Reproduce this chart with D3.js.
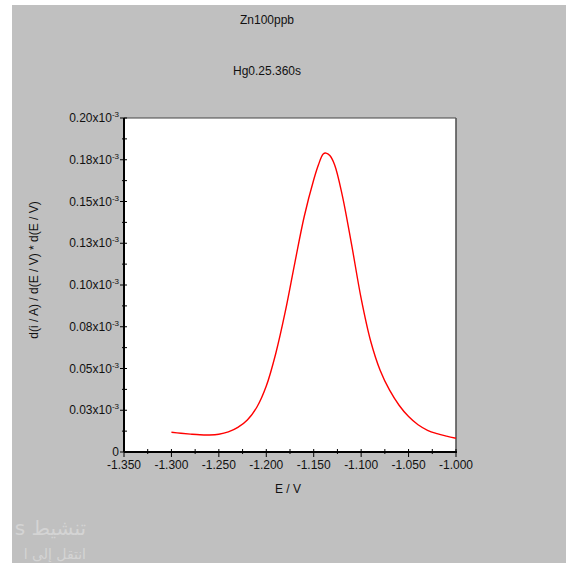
<!DOCTYPE html>
<html>
<head>
<meta charset="utf-8">
<script src="https://cdn.jsdelivr.net/npm/d3@7"></script>
<style>
  html, body { margin: 0; padding: 0; background: #ffffff; }
  svg { display: block; font-family: "Liberation Sans", Arial, sans-serif; }
</style>
</head>
<body>
<svg id="chart" width="566" height="566"></svg>
<script>
// ---- data ----
const title1 = "Zn100ppb";
const title2 = "Hg0.25.360s";
const xLabel = "E / V";
const yLabel = "d(i / A) / d(E / V) * d(E / V)";

const potential = [-1.300, -1.290, -1.280, -1.270, -1.260, -1.250, -1.240, -1.230, -1.220, -1.210,
  -1.200, -1.190, -1.180, -1.170, -1.160, -1.150, -1.145, -1.140, -1.137, -1.133, -1.128,
  -1.120, -1.110, -1.100, -1.090, -1.080, -1.070, -1.060, -1.050, -1.040, -1.030, -1.020, -1.010, -1.000];
// values in units of 1e-3
const signal = [0.0118, 0.0112, 0.0107, 0.0103, 0.0102, 0.0106, 0.0120, 0.0147, 0.0192, 0.0268,
  0.0395, 0.0590, 0.0840, 0.1130, 0.1410, 0.1630, 0.1720, 0.1785, 0.1790, 0.1775, 0.1720,
  0.1540, 0.1240, 0.0920, 0.0665, 0.0490, 0.0370, 0.0280, 0.0212, 0.0163, 0.0130, 0.0110, 0.0095, 0.0082];

const xTicks = [-1.35, -1.30, -1.25, -1.20, -1.15, -1.10, -1.05, -1.00];
const xTickLabels = ["-1.350", "-1.300", "-1.250", "-1.200", "-1.150", "-1.100", "-1.050", "-1.000"];
const yTicks = [0, 0.025, 0.05, 0.075, 0.10, 0.125, 0.15, 0.175, 0.20];
const yTickLabels = ["0", "0.03", "0.05", "0.08", "0.10", "0.13", "0.15", "0.18", "0.20"];
const watermark = ["تنشيط s", "انتقل إلى ا"];

// ---- layout ----
const svg = d3.select("#chart");
const L = 124, R = 456, T = 118, B = 452;

svg.append("rect").attr("x", 12).attr("y", 5).attr("width", 554).attr("height", 558).attr("fill", "#c0c0c0");

const x = d3.scaleLinear().domain([-1.35, -1.00]).range([L, R]);
const y = d3.scaleLinear().domain([0, 0.20]).range([B, T]);

svg.append("rect").attr("x", L).attr("y", T).attr("width", R - L).attr("height", B - T)
  .attr("fill", "#ffffff");

// frame top/right
svg.append("line").attr("x1", L).attr("x2", R).attr("y1", T).attr("y2", T)
  .attr("stroke", "#444").attr("stroke-width", 1.2);
svg.append("line").attr("x1", R).attr("x2", R).attr("y1", T).attr("y2", B)
  .attr("stroke", "#555").attr("stroke-width", 1.6);

// titles
svg.append("text").attr("x", 267).attr("y", 24).attr("text-anchor", "middle")
  .attr("font-size", 12).attr("fill", "#111").text(title1);
svg.append("text").attr("x", 267).attr("y", 75).attr("text-anchor", "middle")
  .attr("font-size", 12).attr("fill", "#111").text(title2);

// minor ticks
const yMinor = d3.range(0.0125, 0.2, 0.025);
const xMinor = d3.range(-1.325, -1.0, 0.05);
svg.selectAll(".ym").data(yMinor).join("line")
  .attr("x1", L - 2).attr("x2", L + 3).attr("y1", d => y(d)).attr("y2", d => y(d))
  .attr("stroke", "#000").attr("stroke-width", 1);
svg.selectAll(".xm").data(xMinor).join("line")
  .attr("x1", d => x(d)).attr("x2", d => x(d)).attr("y1", B - 3).attr("y2", B + 2)
  .attr("stroke", "#000").attr("stroke-width", 1);

// major y ticks + labels
const yg = svg.append("g");
yTicks.forEach((v, i) => {
  yg.append("line").attr("x1", L - 4).attr("x2", L + 3).attr("y1", y(v)).attr("y2", y(v))
    .attr("stroke", "#000").attr("stroke-width", 1);
  const t = yg.append("text").attr("x", L - 5).attr("y", y(v) + 4).attr("text-anchor", "end")
    .attr("font-size", 12).attr("fill", "#111");
  if (v === 0) {
    t.text(yTickLabels[i]);
  } else {
    t.append("tspan").text(yTickLabels[i] + "x10");
    t.append("tspan").attr("font-size", 8).attr("dy", -5).text("-3");
  }
});

// major x ticks + labels
const xg = svg.append("g");
xTicks.forEach((v, i) => {
  xg.append("line").attr("x1", x(v)).attr("x2", x(v)).attr("y1", B - 3).attr("y2", B + 5)
    .attr("stroke", "#000").attr("stroke-width", 1);
  xg.append("text").attr("x", x(v)).attr("y", B + 17).attr("text-anchor", "middle")
    .attr("font-size", 12).attr("fill", "#111").text(xTickLabels[i]);
});

// axes lines
svg.append("line").attr("x1", L).attr("x2", L).attr("y1", T).attr("y2", B)
  .attr("stroke", "#000").attr("stroke-width", 2);
svg.append("line").attr("x1", L).attr("x2", R + 1).attr("y1", B).attr("y2", B)
  .attr("stroke", "#000").attr("stroke-width", 2);

// axis titles
svg.append("text").attr("x", 288).attr("y", 493).attr("text-anchor", "middle")
  .attr("font-size", 12).attr("fill", "#111").text(xLabel);
svg.append("text").attr("transform", "translate(38,270) rotate(-90)").attr("text-anchor", "middle")
  .attr("font-size", 12).attr("fill", "#111").text(yLabel);

// curve
const pts = potential.map((p, i) => [p, signal[i]]);
const line = d3.line().x(d => x(d[0])).y(d => y(d[1])).curve(d3.curveCatmullRom.alpha(0.5));
svg.append("path").datum(pts).attr("d", line).attr("fill", "none")
  .attr("stroke", "#ff0000").attr("stroke-width", 1.4);

// watermark (right-to-left text, right-aligned)
svg.append("text").attr("x", 86).attr("y", 535).attr("direction", "rtl").attr("text-anchor", "start")
  .attr("font-family", "'DejaVu Sans', 'Noto Sans', sans-serif")
  .attr("font-size", 20).attr("fill", "#d4d4d4").text(watermark[0]);
svg.append("text").attr("x", 86).attr("y", 559).attr("direction", "rtl").attr("text-anchor", "start")
  .attr("font-family", "'DejaVu Sans', 'Noto Sans', sans-serif")
  .attr("font-size", 14).attr("fill", "#d4d4d4").text(watermark[1]);
</script>
</body>
</html>
